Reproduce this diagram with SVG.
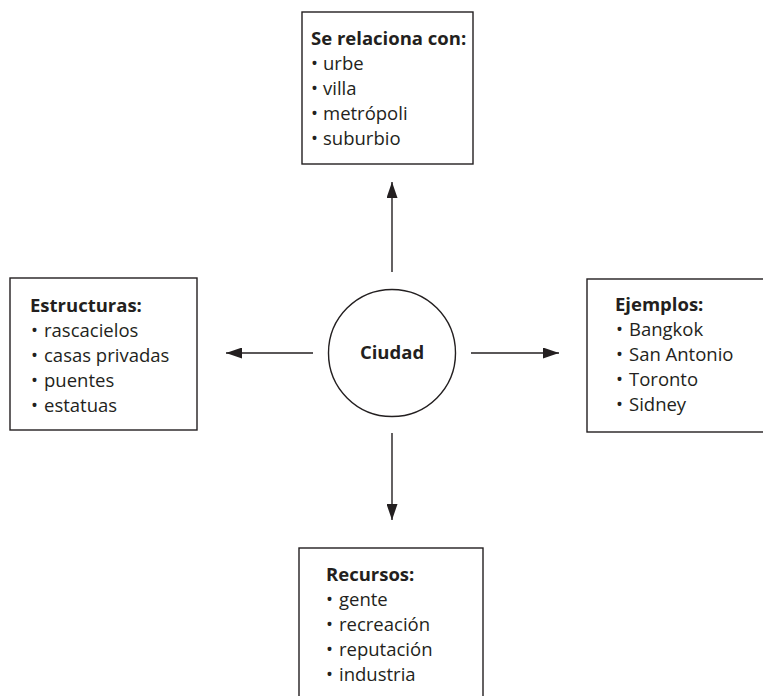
<svg xmlns="http://www.w3.org/2000/svg" width="763" height="696" viewBox="0 0 763 696">
<defs>
<style>
.box{fill:#fff;stroke:#231f20;stroke-width:1.4}
.h{font-family:"Open Sans","Liberation Sans",sans-serif;font-weight:bold;font-size:18.5px;fill:#231f20}
.t{font-family:"Open Sans","Liberation Sans",sans-serif;font-size:18.5px;fill:#231f20}
.c{stroke:#231f20;stroke-width:1.4;fill:none}
</style>
<marker id="ah" viewBox="0 0 16 11" refX="16" refY="5.5" markerWidth="16" markerHeight="11" markerUnits="userSpaceOnUse" orient="auto">
<path d="M0,0 L16,5.5 L0,11 Z" fill="#231f20"/>
</marker>
</defs>
<rect width="763" height="696" fill="#fff"/>
<g id="connectors">
<line class="c" x1="392" y1="272" x2="392" y2="182" marker-end="url(#ah)"/>
<line class="c" x1="313" y1="353" x2="226" y2="353" marker-end="url(#ah)"/>
<line class="c" x1="471" y1="353" x2="559" y2="353" marker-end="url(#ah)"/>
<line class="c" x1="392" y1="433" x2="392" y2="520" marker-end="url(#ah)"/>
</g>
<g id="ciudad">
<circle class="box" cx="392" cy="353" r="63.5"/>
<text class="h" x="392" y="359" text-anchor="middle">Ciudad</text>
</g>
<g id="relaciona">
<rect class="box" x="302" y="12" width="171" height="152"/>
<text class="h" x="311" y="45">Se relaciona con:</text>
<text class="t"><tspan x="311" y="70">•</tspan><tspan x="323">urbe</tspan></text>
<text class="t"><tspan x="311" y="95">•</tspan><tspan x="323">villa</tspan></text>
<text class="t"><tspan x="311" y="120">•</tspan><tspan x="323">metrópoli</tspan></text>
<text class="t"><tspan x="311" y="145">•</tspan><tspan x="323">suburbio</tspan></text>
</g>
<g id="estructuras">
<rect class="box" x="10" y="278" width="187" height="152"/>
<text class="h" x="30" y="312">Estructuras:</text>
<text class="t"><tspan x="31" y="337">•</tspan><tspan x="44">rascacielos</tspan></text>
<text class="t"><tspan x="31" y="362">•</tspan><tspan x="44">casas privadas</tspan></text>
<text class="t"><tspan x="31" y="387">•</tspan><tspan x="44">puentes</tspan></text>
<text class="t"><tspan x="31" y="412">•</tspan><tspan x="44">estatuas</tspan></text>
</g>
<g id="ejemplos">
<rect class="box" x="587" y="279" width="190" height="153"/>
<text class="h" x="615" y="311">Ejemplos:</text>
<text class="t"><tspan x="616" y="336">•</tspan><tspan x="629">Bangkok</tspan></text>
<text class="t"><tspan x="616" y="361">•</tspan><tspan x="629">San Antonio</tspan></text>
<text class="t"><tspan x="616" y="386">•</tspan><tspan x="629">Toronto</tspan></text>
<text class="t"><tspan x="616" y="411">•</tspan><tspan x="629">Sidney</tspan></text>
</g>
<g id="recursos">
<rect class="box" x="299" y="548" width="184" height="160"/>
<text class="h" x="326" y="581">Recursos:</text>
<text class="t"><tspan x="326" y="606">•</tspan><tspan x="339">gente</tspan></text>
<text class="t"><tspan x="326" y="631">•</tspan><tspan x="339">recreación</tspan></text>
<text class="t"><tspan x="326" y="656">•</tspan><tspan x="339">reputación</tspan></text>
<text class="t"><tspan x="326" y="681">•</tspan><tspan x="339">industria</tspan></text>
</g>
</svg>
